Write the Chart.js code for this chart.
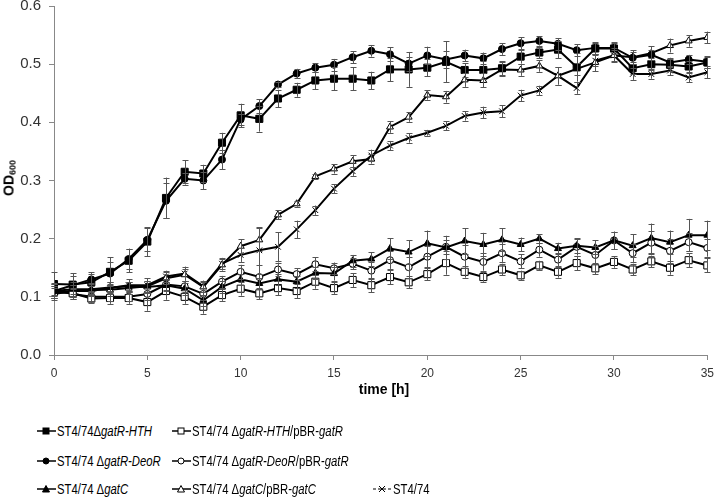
<!DOCTYPE html>
<html><head><meta charset="utf-8">
<script src="https://cdn.jsdelivr.net/npm/chart.js@4/dist/chart.umd.min.js"></script>
<style>
html,body{margin:0;padding:0;background:#fff;}
#wrap{position:relative;width:720px;height:498px;font-family:"Liberation Sans",Arial,sans-serif;overflow:hidden;}
#cbox{position:absolute;left:0;top:-11px;width:720px;height:411px;}
.ytitle{position:absolute;left:9px;top:178px;transform:translate(-50%,-50%) rotate(-90deg);font-weight:bold;font-size:14px;white-space:nowrap;color:#000;}
.ytitle sub{font-size:9px;vertical-align:-2px;}
.xtitle{position:absolute;left:384px;top:389px;transform:translate(-50%,-50%);font-weight:bold;font-size:14px;white-space:nowrap;color:#000;}
.leg{position:absolute;display:flex;align-items:center;font-size:15.5px;white-space:nowrap;color:#000;transform:translateY(-50%);}
.leg svg{flex:none;}
.leg span{display:inline-block;transform:scaleX(0.73);transform-origin:left center;margin-left:1px;}
</style>
</head><body>
<div id="wrap">
  <div id="cbox"><canvas id="cv"></canvas></div>
  <div class="ytitle">OD<sub>600</sub></div>
  <div class="xtitle">time [h]</div>
  <div id="legend"></div>
</div>
<script>
const time = [0,1,2,3,4,5,6,7,8,9,10,11,12,13,14,15,16,17,18,19,20,21,22,23,24,25,26,27,28,29,30,31,32,33,34,35];

const hth   = [0.122,0.121,0.125,0.143,0.162,0.195,0.270,0.315,0.312,0.365,0.412,0.406,0.441,0.456,0.472,0.475,0.475,0.472,0.491,0.491,0.494,0.504,0.490,0.490,0.493,0.513,0.520,0.525,0.495,0.527,0.527,0.493,0.500,0.499,0.496,0.503];
const deo   = [0.110,0.120,0.130,0.140,0.165,0.198,0.265,0.303,0.300,0.336,0.405,0.428,0.465,0.484,0.494,0.499,0.512,0.523,0.517,0.501,0.515,0.508,0.515,0.510,0.526,0.536,0.540,0.535,0.524,0.528,0.528,0.511,0.516,0.503,0.508,0.504];
const gatC  = [0.110,0.113,0.113,0.116,0.118,0.117,0.120,0.114,0.094,0.117,0.130,0.123,0.130,0.126,0.141,0.140,0.162,0.165,0.183,0.177,0.192,0.185,0.196,0.190,0.198,0.190,0.200,0.183,0.188,0.185,0.197,0.188,0.201,0.194,0.206,0.206];
const hthP  = [0.108,0.106,0.097,0.098,0.098,0.091,0.110,0.100,0.083,0.103,0.114,0.106,0.115,0.110,0.126,0.115,0.129,0.120,0.134,0.125,0.139,0.158,0.143,0.134,0.147,0.137,0.154,0.143,0.158,0.149,0.160,0.147,0.161,0.150,0.163,0.154];
const deoP  = [0.113,0.105,0.100,0.100,0.100,0.105,0.121,0.118,0.105,0.126,0.143,0.134,0.147,0.139,0.156,0.149,0.157,0.145,0.163,0.151,0.169,0.186,0.169,0.160,0.175,0.161,0.181,0.164,0.186,0.172,0.197,0.175,0.193,0.179,0.194,0.184];
const gatCP = [0.108,0.110,0.112,0.112,0.115,0.118,0.132,0.138,0.117,0.155,0.187,0.198,0.241,0.260,0.307,0.320,0.333,0.337,0.392,0.409,0.447,0.444,0.473,0.472,0.491,0.490,0.497,0.480,0.492,0.503,0.515,0.512,0.519,0.532,0.540,0.546];
const wt    = [0.105,0.110,0.110,0.115,0.120,0.120,0.135,0.140,0.118,0.157,0.172,0.180,0.186,0.216,0.249,0.286,0.316,0.343,0.360,0.373,0.382,0.394,0.411,0.417,0.419,0.446,0.455,0.480,0.459,0.506,0.515,0.483,0.483,0.489,0.477,0.486];

const errHth   = [.02,.02,.015,.025,.02,.025,.035,.02,.015,.017,.02,.022,.015,.012,.015,.02,.02,.015,.02,.03,.015,.035,.012,.015,.012,.012,.01,.015,.025,.01,.01,.01,.01,.01,.01,.01];
const errDeo   = [.012,.015,.012,.02,.018,.02,.03,.01,.015,.017,.01,.012,.005,.008,.008,.01,.01,.01,.012,.012,.015,.015,.01,.01,.01,.01,.008,.01,.01,.01,.01,.01,.008,.008,.008,.01];
const errGatC  = [.012,.012,.01,.01,.008,.01,.01,.01,.01,.01,.01,.01,.01,.01,.01,.012,.01,.012,.018,.02,.022,.02,.022,.02,.02,.012,.008,.01,.012,.012,.015,.02,.025,.02,.028,.025];
const errHthP  = [.01,.01,.008,.01,.01,.015,.015,.012,.012,.01,.012,.01,.012,.012,.012,.01,.012,.012,.012,.01,.01,.02,.01,.008,.01,.008,.008,.01,.012,.01,.01,.01,.01,.012,.012,.012];
const errDeoP  = [.01,.008,.008,.008,.008,.01,.01,.01,.01,.01,.012,.02,.012,.01,.012,.01,.01,.015,.015,.018,.018,.012,.02,.015,.015,.012,.012,.012,.015,.015,.015,.015,.02,.02,.015,.015];
const errGatCP = [.01,.01,.01,.01,.01,.01,.01,.01,.008,.01,.012,.02,.008,.005,.005,.008,.01,.008,.01,.008,.008,.01,.012,.012,.012,.01,.01,.015,.01,.015,.012,.012,.012,.012,.01,.01];
const errWt    = [.01,.01,.008,.01,.01,.012,.01,.012,.01,.01,.012,.04,.025,.015,.008,.008,.008,.01,.008,.008,.005,.008,.008,.01,.01,.01,.008,.015,.01,.01,.01,.01,.008,.008,.008,.01];

const xTicks = [0,5,10,15,20,25,30,35];
const yTicks = [0.0,0.1,0.2,0.3,0.4,0.5,0.6];

const seriesLabels = [
  'ST4/74Δ<i>gatR-HTH</i>',
  'ST4/74 Δ<i>gatR-DeoR</i>',
  'ST4/74 Δ<i>gatC</i>',
  'ST4/74 Δ<i>gatR-HTH</i>/pBR-<i>gatR</i>',
  'ST4/74 Δ<i>gatR-DeoR</i>/pBR-<i>gatR</i>',
  'ST4/74 Δ<i>gatC</i>/pBR-<i>gatC</i>',
  'ST4/74'
];

function pts(arr){ return arr.map((v,i)=>({x:time[i], y:v})); }

const specs = [
  {data:hth,  err:errHth,  style:'rect',     fill:'#000', r:5},
  {data:deo,  err:errDeo,  style:'circle',   fill:'#000', r:3.5},
  {data:gatC, err:errGatC, style:'triangle', fill:'#000', r:4},
  {data:hthP, err:errHthP, style:'rect',     fill:'#fff', r:5},
  {data:deoP, err:errDeoP, style:'circle',   fill:'#fff', r:3.5},
  {data:gatCP,err:errGatCP,style:'triangle', fill:'#fff', r:4},
  {data:wt,   err:errWt,   style:'crossRot', fill:'#000', r:4}
];

const datasets = specs.map((s,k)=>({
  label: seriesLabels[k].replace(/<[^>]+>/g,''),
  data: pts(s.data),
  errors: s.err,
  borderColor:'#000',
  borderWidth:2,
  backgroundColor:'#000',
  pointStyle:s.style,
  pointRadius:s.r,
  pointBackgroundColor:s.fill,
  pointBorderColor:'#000',
  pointBorderWidth:1,
  tension:0,
  fill:false
}));

const errorBars = {
  id:'errorBars',
  afterDatasetsDraw(chart){
    const ctx = chart.ctx, ys = chart.scales.y;
    ctx.save();
    ctx.strokeStyle = '#555';
    ctx.lineWidth = 1;
    chart.data.datasets.forEach((ds,di)=>{
      const meta = chart.getDatasetMeta(di);
      meta.data.forEach((p,i)=>{
        const v = ds.data[i].y, e = ds.errors[i];
        const y1 = ys.getPixelForValue(v+e), y2 = ys.getPixelForValue(v-e);
        const x = Math.round(p.x)+0.5;
        ctx.beginPath();
        ctx.moveTo(x,y1); ctx.lineTo(x,y2);
        ctx.moveTo(x-3,Math.round(y1)+0.5); ctx.lineTo(x+3,Math.round(y1)+0.5);
        ctx.moveTo(x-3,Math.round(y2)+0.5); ctx.lineTo(x+3,Math.round(y2)+0.5);
        ctx.stroke();
      });
    });
    ctx.restore();
  }
};

new Chart(document.getElementById('cv'), {
  type:'line',
  data:{datasets},
  options:{
    responsive:true,
    maintainAspectRatio:false,
    animation:false,
    layout:{padding:{left:0,right:7,top:0,bottom:0}},
    plugins:{legend:{display:false},tooltip:{enabled:false}},
    scales:{
      x:{
        type:'linear', min:0, max:35,
        afterBuildTicks(s){ s.ticks = xTicks.map(v=>({value:v})); },
        afterFit(s){ s.height = 45; },
        grid:{display:true, drawOnChartArea:false, drawTicks:true, tickLength:5, color:'#888'},
        border:{color:'#888', width:1},
        ticks:{color:'#333', font:{family:'"Liberation Sans", Arial', size:12}, padding:6, maxRotation:0}
      },
      y:{
        type:'linear', min:0, max:0.6,
        afterBuildTicks(s){ s.ticks = yTicks.map(v=>({value:v})); },
        afterFit(s){ s.width = 54; },
        grid:{display:true, drawOnChartArea:false, drawTicks:true, tickLength:5, color:'#888'},
        border:{color:'#888', width:1},
        ticks:{color:'#333', font:{family:'"Liberation Sans", Arial', size:15}, padding:8, callback:v=>Number(v).toFixed(1)}
      }
    }
  },
  plugins:[errorBars]
});

// legend
function icon(spec, dashed){
  const c = 9, w = 19;
  let m = '';
  const f = spec.fill, st = 'stroke="#000" stroke-width="1"';
  if(spec.style==='rect') m = `<rect x="${c-3}" y="2" width="6" height="6" fill="${f}" ${st}/>`;
  else if(spec.style==='circle') m = `<circle cx="${c}" cy="5" r="3" fill="${f}" ${st}/>`;
  else if(spec.style==='triangle') m = `<polygon points="${c},1.5 ${c+3.5},8 ${c-3.5},8" fill="${f}" ${st}/>`;
  else m = `<path d="M${c-3} 2 L${c+3} 8 M${c+3} 2 L${c-3} 8" stroke="#000" stroke-width="1"/>`;
  const line = dashed
    ? `<line x1="0" y1="5" x2="${w}" y2="5" stroke="#000" stroke-width="1.2" stroke-dasharray="3,2"/>`
    : `<line x1="0" y1="5" x2="${w}" y2="5" stroke="#000" stroke-width="1.5"/>`;
  return `<svg width="${w}" height="10" viewBox="0 0 ${w} 10">${line}${m}</svg>`;
}
const legPos = [[37,431],[37,461],[37,489],[172,431],[172,461],[172,489],[373,489]];
const lg = document.getElementById('legend');
specs.forEach((s,k)=>{
  const d = document.createElement('div');
  d.className='leg';
  d.style.left = legPos[k][0]+'px';
  d.style.top = legPos[k][1]+'px';
  d.innerHTML = icon(s, k===6) + '<span>'+seriesLabels[k]+'</span>';
  lg.appendChild(d);
});
</script>
</body></html>
